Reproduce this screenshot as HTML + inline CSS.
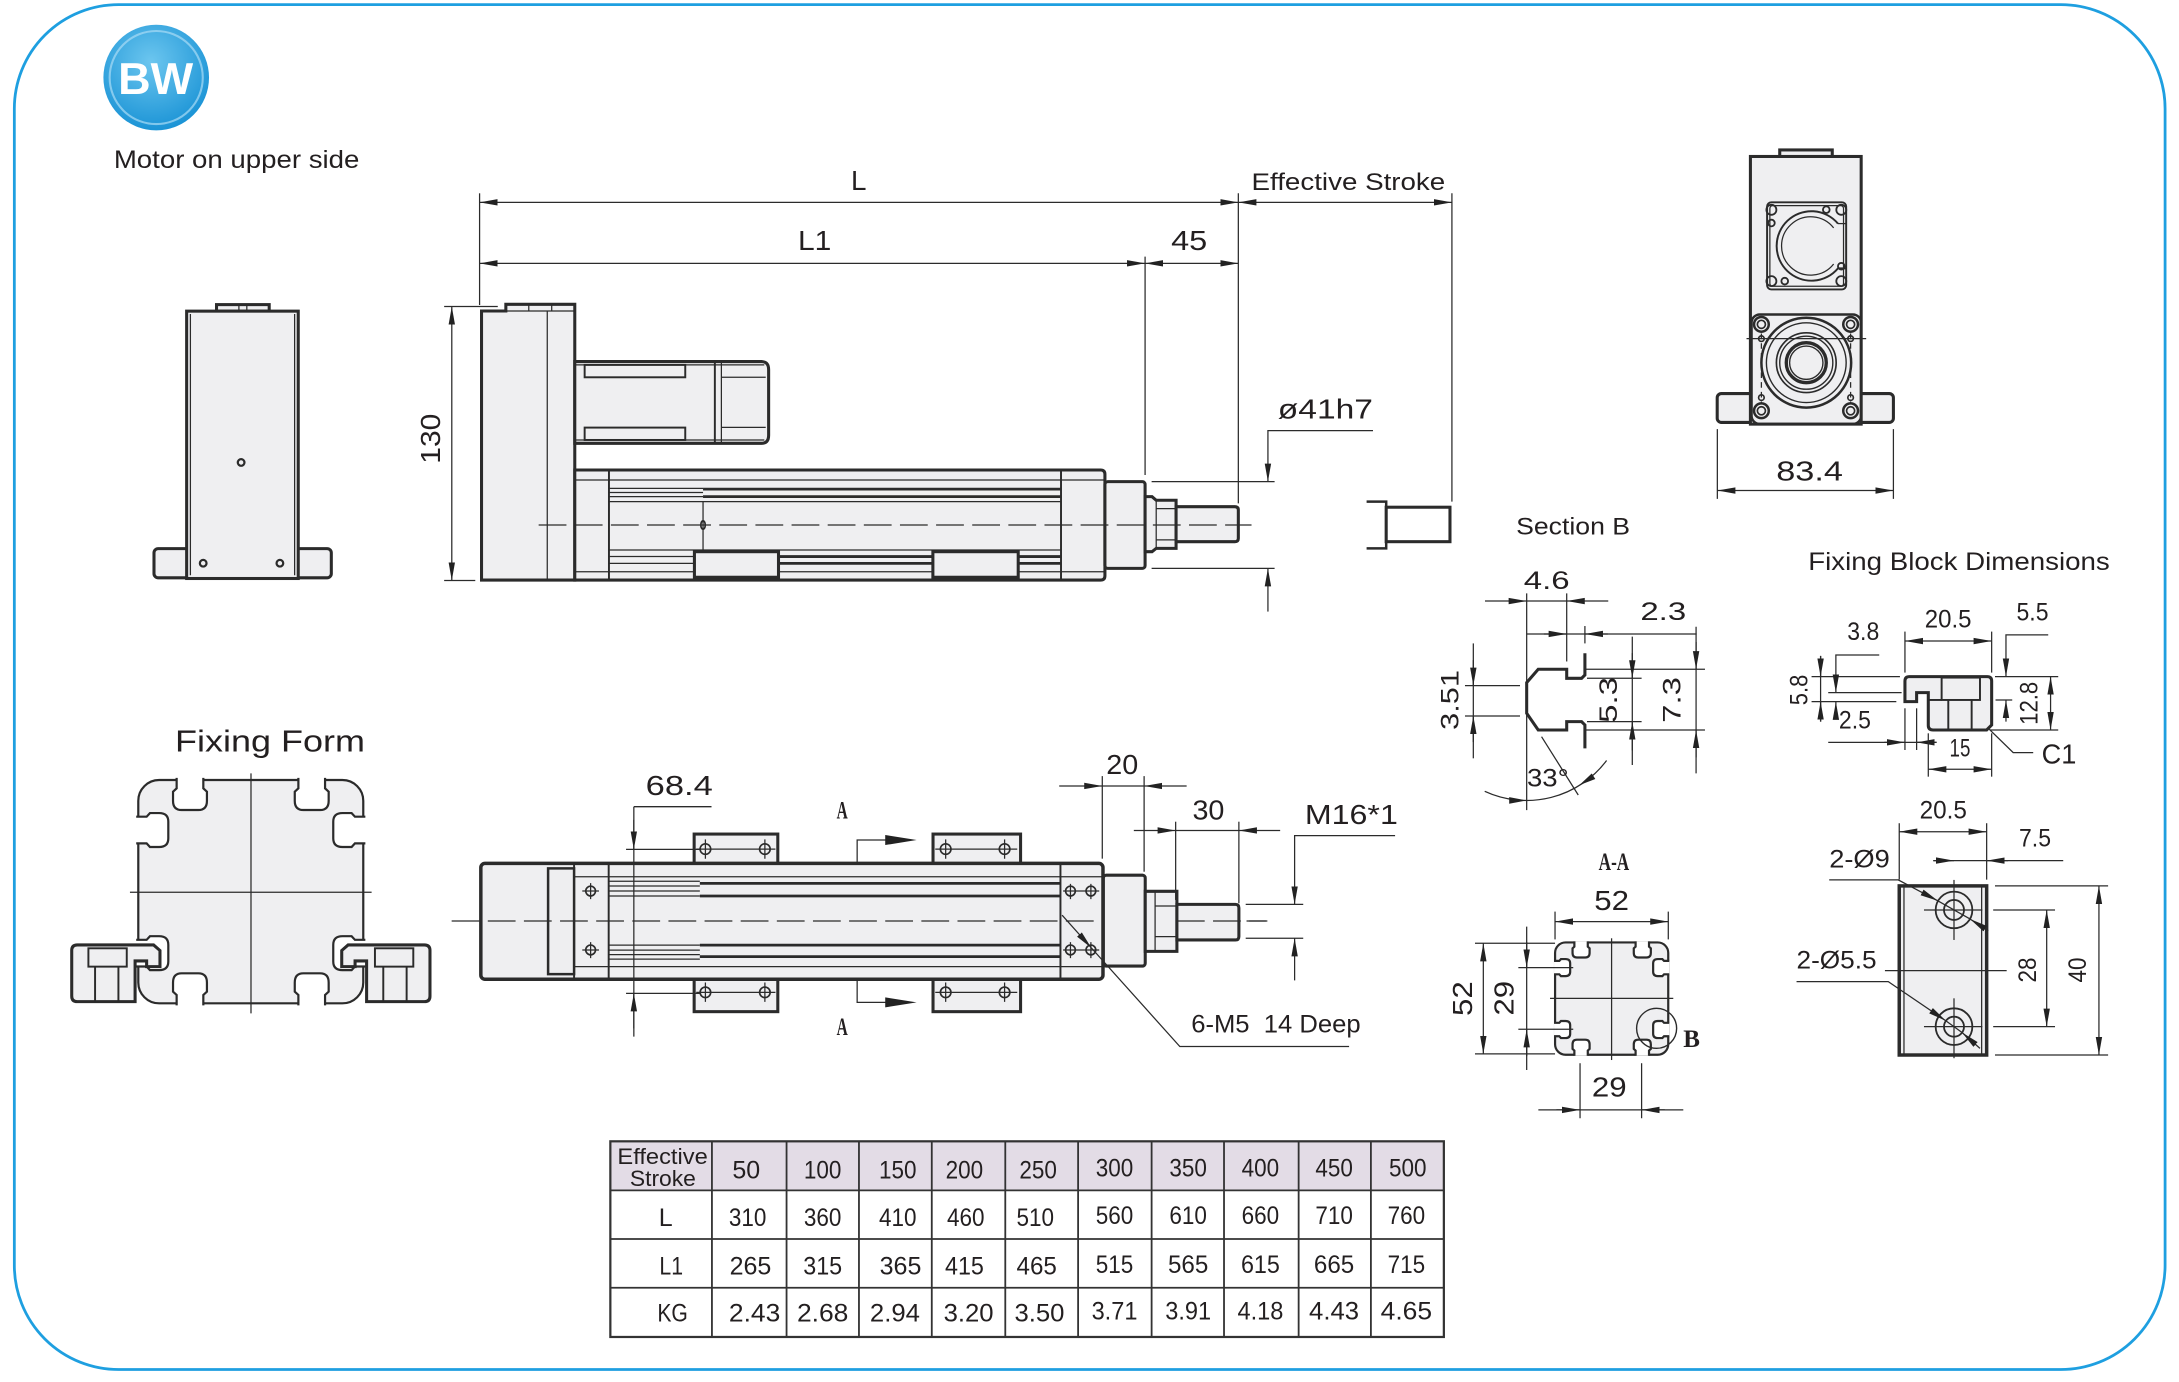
<!DOCTYPE html>
<html><head><meta charset="utf-8">
<style>
html,body{margin:0;padding:0;background:#fff;overflow:hidden;width:2179px;height:1382px}
svg{display:block}
text{font-family:"Liberation Sans",sans-serif;fill:#231f20}
.t{fill:none;stroke:#2b2b2b;stroke-width:0.9}
.m{fill:none;stroke:#2b2b2b;stroke-width:1.4}
.k{fill:#efeff1;stroke:#2b2b2b;stroke-width:2.2}
.n{fill:none;stroke:#2b2b2b;stroke-width:2.2}
.w{fill:#fff;stroke:#2b2b2b;stroke-width:2.2}
.c{fill:none;stroke:#2b2b2b;stroke-width:0.9;stroke-dasharray:20 6}
.e{marker-end:url(#a)}
.b{marker-start:url(#a);marker-end:url(#a)}
.d{font-size:20px}
.s{font-size:18px}
.ab{font-family:"Liberation Serif",serif;font-weight:bold;font-size:18px}
.tb{font-size:18px}
</style></head>
<body>
<svg width="2179" height="1382" viewBox="0 0 1568 994.5" xmlns="http://www.w3.org/2000/svg">
<defs>
<marker id="a" viewBox="0 -3 14 6" markerWidth="14" markerHeight="6" refX="13" refY="0" orient="auto-start-reverse" markerUnits="userSpaceOnUse"><path d="M0,-2.3 L13,0 L0,2.3 z" fill="#222"/></marker>
<radialGradient id="bw" cx="0.45" cy="0.35" r="0.7"><stop offset="0" stop-color="#6cc6ef"/><stop offset="1" stop-color="#1590d4"/></radialGradient>
<path id="sl" d="M-9.6,-1.5 V6 L-12.2,8.4 V15 Q-12.2,21.6 -6,21.6 H6 Q12.2,21.6 12.2,15 V8.4 L9.6,6 V-1.5" fill="#fff" stroke="#2b2b2b" stroke-width="2.2" vector-effect="non-scaling-stroke"/>
<g id="prof">
<rect x="99.5" y="561.3" width="161.9" height="160.7" rx="15" fill="#efeff1" stroke="#2b2b2b" stroke-width="2.2" vector-effect="non-scaling-stroke"/>
<use href="#sl" transform="translate(136.7,561.3)"/>
<use href="#sl" transform="translate(224.3,561.3)"/>
<use href="#sl" transform="translate(136.7,722) rotate(180)"/>
<use href="#sl" transform="translate(224.3,722) rotate(180)"/>
<use href="#sl" transform="translate(99.5,597.3) rotate(-90)"/>
<use href="#sl" transform="translate(99.5,685.9) rotate(-90)"/>
<use href="#sl" transform="translate(261.4,597.3) rotate(90)"/>
<use href="#sl" transform="translate(261.4,685.9) rotate(90)"/>
</g>
<g id="foot">
<path class="k" d="M51.6,684 Q51.6,680 55.6,680 H110.5 L115.1,684 V695.6 H105.5 V691.5 H97.2 V720.8 H55.6 Q51.6,720.8 51.6,716.8 Z"/>
<rect class="m" x="63.6" y="682.4" width="27.6" height="13.2"/>
<line class="m" x1="68.4" y1="695.6" x2="68.4" y2="720.8"/>
<line class="m" x1="85.2" y1="695.6" x2="85.2" y2="720.8"/>
</g>
</defs>

<!-- border -->
<rect x="10.3" y="3.3" width="1547.7" height="982.2" rx="75" fill="none" stroke="#1e9fe0" stroke-width="2"/>

<!-- logo -->
<circle cx="112.4" cy="55.8" r="38" fill="url(#bw)"/>
<circle cx="112.4" cy="55.8" r="33.5" fill="none" stroke="#a9dcf5" stroke-width="1.5" opacity="0.7"/>
<text x="112" y="67.5" text-anchor="middle" font-size="32" font-weight="bold" style="fill:#fff" textLength="54" lengthAdjust="spacingAndGlyphs">BW</text>
<text x="81.9" y="120.8" font-size="18" textLength="176.7" lengthAdjust="spacingAndGlyphs">Motor on upper side</text>

<!-- left end view -->
<rect class="k" x="155.8" y="219.2" width="37.9" height="4.7"/>
<line class="t" x1="171.9" y1="219.2" x2="171.9" y2="223.9"/>
<line class="t" x1="177.6" y1="219.2" x2="177.6" y2="223.9"/>
<rect class="k" x="110.8" y="394.8" width="26" height="21" rx="3"/>
<rect class="k" x="212.6" y="394.8" width="25.8" height="21" rx="3"/>
<rect class="k" x="134.3" y="223.9" width="80.3" height="192.4"/>
<line class="t" x1="137" y1="226" x2="137" y2="414"/>
<line class="t" x1="212" y1="226" x2="212" y2="414"/>
<circle cx="173.5" cy="332.8" r="2.4" fill="none" stroke="#2b2b2b" stroke-width="1.6"/>
<circle cx="146.2" cy="405.3" r="2.4" fill="none" stroke="#2b2b2b" stroke-width="1.6"/>
<circle cx="201.4" cy="405.3" r="2.4" fill="none" stroke="#2b2b2b" stroke-width="1.6"/>

<!-- side view dimensions -->
<line class="t b" x1="345.1" y1="145.6" x2="891.1" y2="145.6"/>
<line class="t b" x1="891.1" y1="145.6" x2="1044.8" y2="145.6"/>
<line class="t b" x1="345.1" y1="189.5" x2="824" y2="189.5"/>
<line class="t b" x1="824" y1="189.5" x2="891.1" y2="189.5"/>
<line class="t" x1="345.1" y1="139.1" x2="345.1" y2="219.5"/>
<line class="t" x1="824" y1="184.7" x2="824" y2="341.8"/>
<line class="t" x1="891.1" y1="139.1" x2="891.1" y2="362.2"/>
<line class="t" x1="1044.8" y1="139.1" x2="1044.8" y2="361"/>
<text class="d" x="617.9" y="136.7" text-anchor="middle">L</text>
<text class="d" x="586.2" y="179.9" text-anchor="middle" textLength="24" lengthAdjust="spacingAndGlyphs">L1</text>
<text class="d" x="855.7" y="179.9" text-anchor="middle" textLength="26" lengthAdjust="spacingAndGlyphs">45</text>
<text x="900.6" y="136.7" font-size="17" textLength="139.4" lengthAdjust="spacingAndGlyphs">Effective Stroke</text>
<line class="t b" x1="325.1" y1="220.6" x2="325.1" y2="417.7"/>
<line class="t" x1="319.6" y1="220.6" x2="358.2" y2="220.6"/>
<line class="t" x1="319.6" y1="417.7" x2="342" y2="417.7"/>
<text class="d" transform="translate(316.5,315.7) rotate(-90)" text-anchor="middle" font-size="22" textLength="36" lengthAdjust="spacingAndGlyphs">130</text>

<!-- side view body -->
<path class="k" d="M346.5,223.8 H364 V219 H413.6 V417.4 H346.5 Z"/>
<line class="t" x1="393.8" y1="223.8" x2="393.8" y2="417.4"/>
<line class="t" x1="364" y1="223.8" x2="413.6" y2="223.8"/>
<line class="t" x1="380.5" y1="219" x2="380.5" y2="223.8"/>
<line class="t" x1="397" y1="219" x2="397" y2="223.8"/>
<path class="k" d="M413.6,260.2 H548 Q553.1,260.2 553.1,266 V313.2 Q553.1,319 548,319 H413.6 Z"/>
<line class="t" x1="413.6" y1="262.6" x2="550" y2="262.6"/>
<line class="t" x1="413.6" y1="316.6" x2="550" y2="316.6"/>
<rect class="m" x="420.7" y="262.6" width="72.4" height="8.9" fill="#efeff1"/>
<rect class="m" x="420.7" y="307.7" width="72.4" height="8.9" fill="#efeff1"/>
<line class="m" x1="514.4" y1="260.2" x2="514.4" y2="319"/>
<line class="t" x1="519.1" y1="260.2" x2="519.1" y2="319"/>
<line class="t" x1="519.1" y1="271.5" x2="551" y2="271.5"/>
<line class="t" x1="519.1" y1="307.5" x2="551" y2="307.5"/>
<path class="k" d="M413.6,338.2 H792 Q795.1,338.2 795.1,341.3 V414.3 Q795.1,417.4 792,417.4 H413.6 Z"/>
<line class="m" x1="438.2" y1="338.2" x2="438.2" y2="417.4"/>
<line class="m" x1="763.5" y1="338.2" x2="763.5" y2="417.4"/>
<line class="t" x1="413.6" y1="345.4" x2="795.1" y2="345.4"/>
<line class="t" x1="413.6" y1="411.4" x2="795.1" y2="411.4"/>
<line class="t" x1="438.2" y1="351.4" x2="505.9" y2="351.4"/>
<line class="t" x1="438.2" y1="354.4" x2="505.9" y2="354.4"/>
<line class="t" x1="438.2" y1="357.4" x2="505.9" y2="357.4"/>
<line class="n" x1="505.9" y1="352" x2="763.5" y2="352" style="stroke-width:2"/>
<line class="n" x1="505.9" y1="357.4" x2="763.5" y2="357.4" style="stroke-width:2"/>
<line class="t" x1="438.2" y1="361" x2="763.5" y2="361"/>
<line class="t" x1="438.2" y1="395.8" x2="763.5" y2="395.8"/>
<line class="t" x1="438.2" y1="400.5" x2="505.9" y2="400.5"/>
<line class="t" x1="438.2" y1="405.4" x2="505.9" y2="405.4"/>
<line class="n" x1="505.9" y1="400.5" x2="763.5" y2="400.5" style="stroke-width:2"/>
<line class="n" x1="505.9" y1="405.4" x2="763.5" y2="405.4" style="stroke-width:2"/>
<line class="t" x1="505.9" y1="361" x2="505.9" y2="395.8"/>
<ellipse cx="505.9" cy="377.8" rx="1.6" ry="3" fill="none" stroke="#2b2b2b" stroke-width="1.2"/>
<rect class="k" x="499.7" y="397" width="60.5" height="18.4"/>
<rect class="k" x="671.3" y="397" width="61.4" height="18.4"/>
<rect class="k" x="795.1" y="346.6" width="28.9" height="62.4" rx="2"/>
<path class="k" d="M824,357.4 H829 L832,360 H846.3 V394.6 H832 L829,397 H824 Z"/>
<line class="t" x1="832" y1="366" x2="846.3" y2="366"/>
<line class="t" x1="832" y1="388.5" x2="846.3" y2="388.5"/>
<line class="t" x1="832" y1="360" x2="832" y2="394.6"/>
<path class="k" d="M846.3,364.6 H888.6 Q891.1,364.6 891.1,367 V387.4 Q891.1,389.8 888.6,389.8 H846.3 Z"/>
<line class="c" x1="387.6" y1="377.8" x2="900.6" y2="377.8"/>
<!-- phi41h7 -->
<text class="d" x="919.5" y="301" font-size="21" textLength="68.5" lengthAdjust="spacingAndGlyphs">ø41h7</text>
<polyline class="t e" points="988,309.9 912.4,309.9 912.4,346.6"/>
<line class="t e" x1="912.4" y1="440.1" x2="912.4" y2="409"/>
<line class="t" x1="828.7" y1="346.6" x2="917.2" y2="346.6"/>
<line class="t" x1="828.7" y1="409" x2="917.2" y2="409"/>
<!-- stroke end -->
<rect class="n" x="997.5" y="365" width="45.9" height="24.8" fill="#fff"/>
<path class="n" d="M983.4,361 H997.5 V394.6 H983.4" style="stroke-width:1.8"/>

<!-- top right end view -->
<rect class="k" x="1280.7" y="107.9" width="37.8" height="5"/>
<rect class="k" x="1235.7" y="283.2" width="26" height="20.8" rx="3"/>
<rect class="k" x="1337" y="283.2" width="25.5" height="20.8" rx="3"/>
<rect class="k" x="1259.6" y="112.6" width="79.7" height="192.6"/>
<rect class="m" x="1271.6" y="145.6" width="56.9" height="62.7" rx="3"/>
<rect class="t" x="1273.6" y="148" width="53" height="58" rx="2"/>
<path class="m" d="M1322.6,160.9 A25,25 0 1 0 1322.6,193.1 H1328.5"/>
<path class="t" d="M1322.6,160.9 H1328.5"/>
<path class="t" d="M1319.5,164 A21,21 0 1 0 1319.5,190"/>
<g fill="none" stroke="#2b2b2b" stroke-width="1.3">
<circle cx="1274.7" cy="151" r="3.6"/><circle cx="1325" cy="151" r="3.6"/>
<circle cx="1274.7" cy="202.3" r="3.6"/><circle cx="1325" cy="202.3" r="3.6"/>
<circle cx="1274.7" cy="160.5" r="2.4"/><circle cx="1314.2" cy="150.9" r="2.4"/>
<circle cx="1325" cy="191.6" r="2.4"/><circle cx="1284.3" cy="202.3" r="2.4"/>
</g>
<rect class="m" x="1260.4" y="226.3" width="78.9" height="78.9" rx="6" style="stroke-width:1.8"/>
<g fill="none" stroke="#2b2b2b">
<circle cx="1299.8" cy="261" r="32.3" stroke-width="1.8"/>
<circle cx="1299.8" cy="261" r="28.7" stroke-width="1"/>
<circle cx="1299.8" cy="261" r="21.5" stroke-width="1.2"/>
<circle cx="1299.8" cy="261" r="19.1" stroke-width="1"/>
<circle cx="1299.8" cy="261" r="14.4" stroke-width="2.4"/>
<circle cx="1299.8" cy="261" r="12" stroke-width="1"/>
<circle cx="1267.5" cy="233.4" r="5.3" stroke-width="1.8"/><circle cx="1267.5" cy="233.4" r="2.9" stroke-width="1.2"/>
<circle cx="1331.7" cy="233.4" r="5.3" stroke-width="1.8"/><circle cx="1331.7" cy="233.4" r="2.9" stroke-width="1.2"/>
<circle cx="1267.5" cy="295.6" r="5.3" stroke-width="1.8"/><circle cx="1267.5" cy="295.6" r="2.9" stroke-width="1.2"/>
<circle cx="1331.7" cy="295.6" r="5.3" stroke-width="1.8"/><circle cx="1331.7" cy="295.6" r="2.9" stroke-width="1.2"/>
<circle cx="1267.5" cy="243.7" r="2" stroke-width="1.2"/><circle cx="1331.7" cy="243.7" r="2" stroke-width="1.2"/>
<circle cx="1267.5" cy="286.1" r="2" stroke-width="1.2"/><circle cx="1331.7" cy="286.1" r="2" stroke-width="1.2"/>
</g>
<line class="t" x1="1256.8" y1="243.7" x2="1342.9" y2="243.7"/>
<line class="t" x1="1267.5" y1="240" x2="1267.5" y2="290" style="stroke-dasharray:4 3"/>
<line class="t" x1="1331.7" y1="240" x2="1331.7" y2="290" style="stroke-dasharray:4 3"/>
<line class="t b" x1="1235.8" y1="353" x2="1362.5" y2="353"/>
<line class="t" x1="1235.8" y1="308.8" x2="1235.8" y2="359"/>
<line class="t" x1="1362.5" y1="308.8" x2="1362.5" y2="359"/>
<text class="d" x="1302.2" y="345.9" text-anchor="middle" font-size="21" textLength="48" lengthAdjust="spacingAndGlyphs">83.4</text>

<!-- Section B -->
<text x="1091" y="384.5" font-size="17.5" textLength="82" lengthAdjust="spacingAndGlyphs">Section B</text>
<path class="n" d="M1140.5,470.1 V485.7 L1138.1,488.1 H1127.4 V481.6 H1106.9 L1098.6,491.2 V513.3 L1106.9,525.3 H1127.4 V519.3 H1138.1 L1140.5,521.7 V538.5"/>
<line class="t e" x1="1068.6" y1="432.5" x2="1098.6" y2="432.5"/>
<line class="t e" x1="1157.3" y1="432.5" x2="1127.4" y2="432.5"/>
<line class="t" x1="1098.6" y1="432.5" x2="1127.4" y2="432.5"/>
<line class="t" x1="1098.6" y1="427" x2="1098.6" y2="583"/>
<line class="t" x1="1127.4" y1="427" x2="1127.4" y2="476"/>
<text class="s" x="1113" y="424" text-anchor="middle" textLength="33" lengthAdjust="spacingAndGlyphs">4.6</text>
<line class="t" x1="1098.6" y1="456.2" x2="1220.9" y2="456.2"/>
<line class="t e" x1="1111" y1="456.2" x2="1127.4" y2="456.2"/>
<line class="t e" x1="1157" y1="456.2" x2="1140.5" y2="456.2"/>
<line class="t" x1="1140.5" y1="450.5" x2="1140.5" y2="463"/>
<text class="s" x="1196.9" y="446.1" text-anchor="middle" textLength="33" lengthAdjust="spacingAndGlyphs">2.3</text>
<line class="t" x1="1141" y1="481.6" x2="1226.9" y2="481.6"/>
<line class="t" x1="1141" y1="525.3" x2="1226.9" y2="525.3"/>
<line class="t" x1="1142" y1="488.1" x2="1181.3" y2="488.1"/>
<line class="t" x1="1142" y1="519.3" x2="1181.3" y2="519.3"/>
<line class="t" x1="1174.6" y1="458.1" x2="1174.6" y2="550.5"/>
<line class="t e" x1="1174.6" y1="470" x2="1174.6" y2="488.1"/>
<line class="t e" x1="1174.6" y1="540" x2="1174.6" y2="519.3"/>
<text class="s" transform="translate(1163.6,503.7) rotate(-90)" text-anchor="middle" textLength="33" lengthAdjust="spacingAndGlyphs">5.3</text>
<line class="t" x1="1220.5" y1="451" x2="1220.5" y2="556.5"/>
<line class="t e" x1="1220.5" y1="462" x2="1220.5" y2="481.6"/>
<line class="t e" x1="1220.5" y1="545" x2="1220.5" y2="525.3"/>
<text class="s" transform="translate(1209.2,503.7) rotate(-90)" text-anchor="middle" textLength="33" lengthAdjust="spacingAndGlyphs">7.3</text>
<line class="t" x1="1060.2" y1="463" x2="1060.2" y2="545.7"/>
<line class="t e" x1="1060.2" y1="475" x2="1060.2" y2="493.4"/>
<line class="t e" x1="1060.2" y1="534" x2="1060.2" y2="515.2"/>
<line class="t" x1="1054.2" y1="493.4" x2="1093.8" y2="493.4"/>
<line class="t" x1="1054.2" y1="515.2" x2="1093.8" y2="515.2"/>
<text class="s" transform="translate(1049.7,503.7) rotate(-90)" text-anchor="middle" textLength="43" lengthAdjust="spacingAndGlyphs">3.51</text>
<path class="t" d="M1068.4,569.4 A72,72 0 0 0 1156.1,547.3"/>
<polygon points="1098.6,576 1086,573.6 1086,578.4" fill="#222"/>
<polygon points="1136.5,565 1148,560.6 1145.4,556.6" fill="#222"/>
<line class="t" x1="1109.3" y1="530.1" x2="1135.7" y2="572.1"/>
<text x="1098.8" y="566.1" font-size="18" textLength="30" lengthAdjust="spacingAndGlyphs">33°</text>

<!-- Fixing block dims -->
<text x="1301.2" y="410.2" font-size="18" textLength="217" lengthAdjust="spacingAndGlyphs">Fixing Block Dimensions</text>
<path class="k" d="M1370.8,490 Q1370.8,486.9 1374,486.9 H1430 Q1433.2,486.9 1433.2,490 V521.7 L1429.6,525.3 H1391 Q1387.6,525.3 1387.6,522 V498.4 H1379.2 V504.9 H1370.8 Z"/>
<rect class="m" x="1397.2" y="487.6" width="27.6" height="16.1"/>
<line class="m" x1="1387.6" y1="503.7" x2="1397.2" y2="503.7"/>
<line class="m" x1="1402" y1="503.7" x2="1402" y2="525.3"/>
<line class="m" x1="1418.8" y1="503.7" x2="1418.8" y2="525.3"/>
<line class="t b" x1="1370.8" y1="461.3" x2="1433.2" y2="461.3"/>
<line class="t" x1="1370.8" y1="454.5" x2="1370.8" y2="484"/>
<line class="t" x1="1433.2" y1="454.5" x2="1433.2" y2="484"/>
<text class="s" x="1401.9" y="451.4" text-anchor="middle" font-size="19" textLength="33.6" lengthAdjust="spacingAndGlyphs">20.5</text>
<text class="s" x="1462.6" y="446.6" text-anchor="middle" font-size="19" textLength="23" lengthAdjust="spacingAndGlyphs">5.5</text>
<polyline class="t e" points="1473.9,456.9 1443.5,456.9 1443.5,486.9"/>
<line class="t e" x1="1443.5" y1="519.3" x2="1443.5" y2="503.7"/>
<line class="t" x1="1436" y1="503.7" x2="1448" y2="503.7"/>
<line class="t b" x1="1475.6" y1="486.9" x2="1475.6" y2="525.3"/>
<line class="t" x1="1435.6" y1="486.9" x2="1481.1" y2="486.9"/>
<line class="t" x1="1432" y1="525.3" x2="1481.1" y2="525.3"/>
<text class="s" transform="translate(1466.3,506.1) rotate(-90)" text-anchor="middle" font-size="19" textLength="31" lengthAdjust="spacingAndGlyphs">12.8</text>
<line class="t" x1="1310.1" y1="472" x2="1310.1" y2="519.3"/>
<line class="t e" x1="1310.1" y1="472" x2="1310.1" y2="486.9"/>
<line class="t e" x1="1310.1" y1="519.3" x2="1310.1" y2="504.9"/>
<line class="t" x1="1303.6" y1="486.9" x2="1367.2" y2="486.9"/>
<line class="t" x1="1303.6" y1="504.9" x2="1364.6" y2="504.9"/>
<text class="s" transform="translate(1300.8,496.5) rotate(-90)" text-anchor="middle" font-size="19" textLength="22" lengthAdjust="spacingAndGlyphs">5.8</text>
<text class="s" x="1340.8" y="460.5" text-anchor="middle" font-size="19" textLength="23" lengthAdjust="spacingAndGlyphs">3.8</text>
<polyline class="t e" points="1352.3,471.3 1321.1,471.3 1321.1,498.4"/>
<line class="t" x1="1315.6" y1="498.4" x2="1368.4" y2="498.4"/>
<line class="t e" x1="1321.1" y1="517" x2="1321.1" y2="505"/>
<line class="t" x1="1315.6" y1="534.2" x2="1393.6" y2="534.2"/>
<line class="t e" x1="1356" y1="534.2" x2="1370.8" y2="534.2"/>
<line class="t e" x1="1393.6" y1="534.2" x2="1379.2" y2="534.2"/>
<line class="t" x1="1370.8" y1="509.7" x2="1370.8" y2="539.7"/>
<line class="t" x1="1379.2" y1="509.7" x2="1379.2" y2="539.7"/>
<text class="s" x="1334.8" y="524.1" text-anchor="middle" font-size="19" textLength="23" lengthAdjust="spacingAndGlyphs">2.5</text>
<line class="t b" x1="1387.6" y1="553.6" x2="1433.2" y2="553.6"/>
<line class="t" x1="1387.6" y1="527.7" x2="1387.6" y2="558.9"/>
<line class="t" x1="1433.2" y1="527.7" x2="1433.2" y2="558.9"/>
<text class="s" x="1410.4" y="544.5" text-anchor="middle" font-size="19" textLength="15" lengthAdjust="spacingAndGlyphs">15</text>
<polyline class="t" points="1431.5,524.8 1448.7,541.6 1463.1,541.6"/>
<text x="1469.2" y="549.3" font-size="20" textLength="25" lengthAdjust="spacingAndGlyphs">C1</text>

<!-- fixing block lower view -->
<rect x="1366.7" y="637.5" width="62.9" height="121.7" fill="#efeff1" stroke="#2b2b2b" stroke-width="2.5"/>
<line class="t" x1="1370.1" y1="637.5" x2="1370.1" y2="759.2"/>
<line class="t" x1="1426" y1="637.5" x2="1426" y2="759.2"/>
<g fill="none" stroke="#2b2b2b" stroke-width="1.3">
<circle cx="1406.1" cy="654.8" r="13.2"/><circle cx="1406.1" cy="654.8" r="7.2"/>
<circle cx="1406.1" cy="738.8" r="13.2"/><circle cx="1406.1" cy="738.8" r="7.2"/>
</g>
<line class="t" x1="1406.1" y1="633.2" x2="1406.1" y2="676.4"/>
<line class="t" x1="1384.5" y1="654.8" x2="1426.5" y2="654.8"/>
<line class="t" x1="1406.1" y1="718.4" x2="1406.1" y2="761.5"/>
<line class="t" x1="1384.5" y1="738.8" x2="1426.5" y2="738.8"/>
<line class="t" x1="1356.4" y1="698.5" x2="1444" y2="698.5"/>
<line class="t b" x1="1366.7" y1="598.5" x2="1429.6" y2="598.5"/>
<line class="t" x1="1366.7" y1="592.4" x2="1366.7" y2="633"/>
<line class="t" x1="1429.6" y1="592.4" x2="1429.6" y2="633"/>
<text class="s" x="1398.4" y="588.9" text-anchor="middle" font-size="19" textLength="34" lengthAdjust="spacingAndGlyphs">20.5</text>
<line class="t" x1="1391.2" y1="619.3" x2="1484.7" y2="619.3"/>
<line class="t e" x1="1391.2" y1="619.3" x2="1406.1" y2="619.3"/>
<line class="t e" x1="1445" y1="619.3" x2="1429.6" y2="619.3"/>
<text class="s" x="1464.4" y="609.2" text-anchor="middle" font-size="19" textLength="23" lengthAdjust="spacingAndGlyphs">7.5</text>
<text class="s" x="1316.3" y="624.1" font-size="19" textLength="43.6" lengthAdjust="spacingAndGlyphs">2-Ø9</text>
<polyline class="t e" points="1316.3,633.2 1366,633.2 1394.6,648.3"/>
<line class="t e" x1="1430.8" y1="669.7" x2="1417.6" y2="661.3"/>
<line class="t" x1="1394.6" y1="648.3" x2="1417.6" y2="661.3"/>
<text class="s" x="1292.8" y="696.8" font-size="19" textLength="57.6" lengthAdjust="spacingAndGlyphs">2-Ø5.5</text>
<polyline class="t e" points="1292.8,706.4 1358.8,706.4 1400.3,734.6"/>
<line class="t e" x1="1424.8" y1="754.4" x2="1411.9" y2="743"/>
<line class="t" x1="1400.3" y1="734.6" x2="1411.9" y2="743"/>
<line class="t b" x1="1472.8" y1="654.8" x2="1472.8" y2="738.8"/>
<line class="t" x1="1434.3" y1="654.8" x2="1478.8" y2="654.8"/>
<line class="t" x1="1434.3" y1="738.8" x2="1478.8" y2="738.8"/>
<text class="s" transform="translate(1465.2,698) rotate(-90)" text-anchor="middle" font-size="19" textLength="18" lengthAdjust="spacingAndGlyphs">28</text>
<line class="t b" x1="1510.4" y1="637.5" x2="1510.4" y2="759.2"/>
<line class="t" x1="1435.6" y1="637.5" x2="1517" y2="637.5"/>
<line class="t" x1="1435.6" y1="759.2" x2="1517" y2="759.2"/>
<text class="s" transform="translate(1501.1,698) rotate(-90)" text-anchor="middle" font-size="19" textLength="18" lengthAdjust="spacingAndGlyphs">40</text>

<!-- Fixing Form -->
<text x="125.9" y="540.9" font-size="22" textLength="136.7" lengthAdjust="spacingAndGlyphs">Fixing Form</text>
<use href="#prof"/>
<use href="#foot"/>
<use href="#foot" transform="translate(361,0) scale(-1,1)"/>
<line class="t" x1="180.6" y1="556.5" x2="180.6" y2="729.2"/>
<line class="t" x1="93.5" y1="642.1" x2="267.4" y2="642.1"/>

<!-- A-A -->
<text class="ab" x="1161.4" y="626" text-anchor="middle" textLength="22" lengthAdjust="spacingAndGlyphs">A-A</text>
<use href="#prof" transform="translate(1159.75,718.6) scale(0.503) translate(-180.45,-641.65)"/>
<line class="t" x1="1159.7" y1="675.2" x2="1159.7" y2="762.8"/>
<line class="t" x1="1115.4" y1="718.4" x2="1204.1" y2="718.4"/>
<circle cx="1192.1" cy="740" r="14.4" fill="none" stroke="#2b2b2b" stroke-width="1"/>
<text class="ab" x="1211.3" y="753.6" font-size="16">B</text>
<line class="t b" x1="1119" y1="663.2" x2="1200.5" y2="663.2"/>
<line class="t" x1="1119" y1="656" x2="1119" y2="676"/>
<line class="t" x1="1200.5" y1="656" x2="1200.5" y2="676"/>
<text class="d" x="1159.7" y="654.8" text-anchor="middle" textLength="25" lengthAdjust="spacingAndGlyphs">52</text>
<line class="t b" x1="1067.4" y1="678.8" x2="1067.4" y2="758.4"/>
<line class="t" x1="1061.4" y1="678.8" x2="1119" y2="678.8"/>
<line class="t" x1="1061.4" y1="758.4" x2="1119" y2="758.4"/>
<text class="d" transform="translate(1059.2,718.6) rotate(-90)" text-anchor="middle" textLength="25" lengthAdjust="spacingAndGlyphs">52</text>
<line class="t" x1="1098.6" y1="666.8" x2="1098.6" y2="770"/>
<line class="t e" x1="1098.6" y1="678" x2="1098.6" y2="696.3"/>
<line class="t e" x1="1098.6" y1="760" x2="1098.6" y2="740.7"/>
<line class="t" x1="1092.6" y1="696.3" x2="1132.1" y2="696.3"/>
<line class="t" x1="1092.6" y1="740.7" x2="1132.1" y2="740.7"/>
<text class="d" transform="translate(1089,718.4) rotate(-90)" text-anchor="middle" textLength="25" lengthAdjust="spacingAndGlyphs">29</text>
<line class="t" x1="1107" y1="798.7" x2="1211.3" y2="798.7"/>
<line class="t e" x1="1120" y1="798.7" x2="1137" y2="798.7"/>
<line class="t e" x1="1198" y1="798.7" x2="1181.3" y2="798.7"/>
<line class="t" x1="1137" y1="765.1" x2="1137" y2="804.7"/>
<line class="t" x1="1181.3" y1="765.1" x2="1181.3" y2="804.7"/>
<text class="d" x="1158" y="789.1" text-anchor="middle" textLength="25" lengthAdjust="spacingAndGlyphs">29</text>

<!-- bottom view -->
<rect class="k" x="499.5" y="600.2" width="60.2" height="22"/>
<rect class="k" x="671.4" y="600.2" width="63" height="22"/>
<rect class="k" x="499.5" y="704" width="60.2" height="24"/>
<rect class="k" x="671.4" y="704" width="63" height="24"/>
<rect x="346" y="621.3" width="447.7" height="83.4" rx="3" fill="#efeff1" stroke="#2b2b2b" stroke-width="2.5"/>
<rect x="394.4" y="624.9" width="18.7" height="76.1" fill="#eeeef0" stroke="#2b2b2b" stroke-width="1.8"/>
<line class="m" x1="413.1" y1="621.3" x2="413.1" y2="704.7"/>
<line class="m" x1="438" y1="621.3" x2="438" y2="704.7"/>
<line class="m" x1="763.1" y1="621.3" x2="763.1" y2="704.7"/>
<line class="t" x1="413" y1="630.9" x2="793" y2="630.9"/>
<line class="t" x1="413" y1="695.6" x2="793" y2="695.6"/>
<line class="t" x1="438" y1="634.2" x2="503.6" y2="634.2"/>
<line class="t" x1="438" y1="637.6" x2="503.6" y2="637.6"/>
<line class="t" x1="438" y1="641.2" x2="503.6" y2="641.2"/>
<line class="t" x1="438" y1="644.8" x2="503.6" y2="644.8"/>
<line class="n" x1="503.6" y1="635.7" x2="763.1" y2="635.7" style="stroke-width:2"/>
<line class="n" x1="503.6" y1="644.8" x2="763.1" y2="644.8" style="stroke-width:2"/>
<line class="t" x1="438" y1="680.1" x2="503.6" y2="680.1"/>
<line class="t" x1="438" y1="683.7" x2="503.6" y2="683.7"/>
<line class="t" x1="438" y1="687" x2="503.6" y2="687"/>
<line class="t" x1="438" y1="690.2" x2="503.6" y2="690.2"/>
<line class="n" x1="503.6" y1="680.1" x2="763.1" y2="680.1" style="stroke-width:2"/>
<line class="n" x1="503.6" y1="688.4" x2="763.1" y2="688.4" style="stroke-width:2"/>
<g fill="none" stroke="#2b2b2b" stroke-width="1.2">
<circle cx="425" cy="641.2" r="3.5"/><circle cx="425" cy="683.6" r="3.5"/>
<circle cx="770.3" cy="641.2" r="3.5"/><circle cx="785" cy="641.2" r="3.5"/>
<circle cx="770.3" cy="683.6" r="3.5"/><circle cx="785" cy="683.6" r="3.5"/>
<circle cx="507.6" cy="611" r="3.8"/><circle cx="550.4" cy="611" r="3.8"/>
<circle cx="680.5" cy="611" r="3.8"/><circle cx="722.9" cy="611" r="3.8"/>
<circle cx="507.6" cy="714.1" r="3.8"/><circle cx="550.4" cy="714.1" r="3.8"/>
<circle cx="680.5" cy="714.1" r="3.8"/><circle cx="722.9" cy="714.1" r="3.8"/>
</g>
<g class="t">
<path d="M419,641.2 H431 M425,635.5 V647 M419,683.6 H431 M425,678 V689.5"/>
<path d="M765,641.2 H791 M770.3,636 V647 M785,636 V647 M765,683.6 H791 M770.3,678 V689.5 M785,678 V689.5"/>
<path d="M501,611 H558 M507.6,604 V618 M550.4,604 V618 M673,611 H732 M680.5,604 V618 M722.9,604 V618"/>
<path d="M501,714.1 H558 M507.6,707 V721 M550.4,707 V721 M673,714.1 H732 M680.5,707 V721 M722.9,707 V721"/>
</g>
<line class="c" x1="325" y1="662.8" x2="912" y2="662.8"/>
<polyline class="t" points="616.8,621.3 616.8,604.5 640,604.5"/>
<polygon points="637,600.9 659.6,604.5 637,608.1" fill="#222"/>
<polyline class="t" points="616.8,704.7 616.8,721.3 640,721.3"/>
<polygon points="637,717.7 659.6,721.3 637,724.9" fill="#222"/>
<text class="ab" x="606" y="588.9" text-anchor="middle" font-size="18" textLength="8" lengthAdjust="spacingAndGlyphs">A</text>
<text class="ab" x="606" y="744.8" text-anchor="middle" font-size="18" textLength="8" lengthAdjust="spacingAndGlyphs">A</text>
<line class="t" x1="456.1" y1="580.5" x2="456.1" y2="746"/>
<line class="t e" x1="456.1" y1="590" x2="456.1" y2="611.2"/>
<line class="t e" x1="456.1" y1="740" x2="456.1" y2="714.8"/>
<line class="t" x1="450.5" y1="611.2" x2="503.6" y2="611.2"/>
<line class="t" x1="450.5" y1="714.8" x2="503.6" y2="714.8"/>
<line class="t" x1="456.1" y1="580.5" x2="512" y2="580.5"/>
<text class="d" x="464.6" y="572.1" font-size="21" textLength="48.3" lengthAdjust="spacingAndGlyphs">68.4</text>
<rect class="k" x="794" y="629.8" width="30.1" height="65.4" rx="2"/>
<path class="k" d="M824.1,641.4 H846.9 V684.6 H824.1 Z"/>
<line class="t" x1="831.2" y1="641.4" x2="831.2" y2="684.6"/>
<line class="t" x1="831.2" y1="652" x2="846.9" y2="652"/>
<line class="t" x1="831.2" y1="674" x2="846.9" y2="674"/>
<path class="k" d="M846.9,650.8 H889 Q891.5,650.8 891.5,653.3 V673.9 Q891.5,676.4 889,676.4 H846.9 Z"/>
<line class="c" x1="846.9" y1="662.8" x2="910.9" y2="662.8"/>
<line class="t" x1="793.2" y1="565.6" x2="823.3" y2="565.6"/>
<line class="t e" x1="762.2" y1="565.6" x2="793.2" y2="565.6"/>
<line class="t e" x1="853.9" y1="565.6" x2="823.3" y2="565.6"/>
<line class="t" x1="793.2" y1="558.5" x2="793.2" y2="617.9"/>
<line class="t" x1="823.3" y1="558.5" x2="823.3" y2="627.3"/>
<text class="d" x="807.6" y="556.9" text-anchor="middle" font-size="21" textLength="23" lengthAdjust="spacingAndGlyphs">20</text>
<line class="t" x1="846" y1="597.6" x2="891.5" y2="597.6"/>
<line class="t e" x1="815.9" y1="597.6" x2="846" y2="597.6"/>
<line class="t e" x1="921.2" y1="597.6" x2="891.5" y2="597.6"/>
<line class="t" x1="846" y1="591.3" x2="846" y2="647.6"/>
<line class="t" x1="891.5" y1="591.3" x2="891.5" y2="650"/>
<text class="d" x="869.6" y="589.7" text-anchor="middle" font-size="21" textLength="23" lengthAdjust="spacingAndGlyphs">30</text>
<text class="d" x="939" y="592.9" font-size="21" textLength="66.9" lengthAdjust="spacingAndGlyphs">M16*1</text>
<polyline class="t e" points="1003.9,601.3 931.6,601.3 931.6,650.8"/>
<line class="t e" x1="931.6" y1="705.5" x2="931.6" y2="675.2"/>
<line class="t" x1="896.4" y1="650.8" x2="937.8" y2="650.8"/>
<line class="t" x1="896.4" y1="675.2" x2="937.8" y2="675.2"/>
<line class="t e" x1="764.3" y1="658.6" x2="785.4" y2="682.2"/>
<polyline class="t" points="785.4,682.2 849,753.1 970.8,753.1"/>
<text x="857.2" y="743.1" font-size="18" textLength="121.9" lengthAdjust="spacingAndGlyphs">6-M5&#160; 14 Deep</text>

<!-- table -->
<rect x="439.2" y="821.3" width="599.8" height="35.3" fill="#e3dce6"/>
<g stroke="#333" stroke-width="1.3" fill="none">
<rect x="439.2" y="821.3" width="599.8" height="140.8" stroke-width="1.6"/>
<line x1="439.2" y1="856.6" x2="1039" y2="856.6"/>
<line x1="439.2" y1="891.6" x2="1039" y2="891.6"/>
<line x1="439.2" y1="926.7" x2="1039" y2="926.7"/>
<line x1="512.3" y1="821.3" x2="512.3" y2="962.1"/>
<line x1="566" y1="821.3" x2="566" y2="962.1"/>
<line x1="618.1" y1="821.3" x2="618.1" y2="962.1"/>
<line x1="670.5" y1="821.3" x2="670.5" y2="962.1"/>
<line x1="723.4" y1="821.3" x2="723.4" y2="962.1"/>
<line x1="775.8" y1="821.3" x2="775.8" y2="962.1"/>
<line x1="828.7" y1="821.3" x2="828.7" y2="962.1"/>
<line x1="880.8" y1="821.3" x2="880.8" y2="962.1"/>
<line x1="934.5" y1="821.3" x2="934.5" y2="962.1"/>
<line x1="986.5" y1="821.3" x2="986.5" y2="962.1"/>
</g>
<text x="476.8" y="837.8" text-anchor="middle" font-size="16" textLength="65" lengthAdjust="spacingAndGlyphs">Effective</text>
<text x="477" y="853.5" text-anchor="middle" font-size="16" textLength="47.5" lengthAdjust="spacingAndGlyphs">Stroke</text>
<g class="tb" text-anchor="middle">
<text x="537" y="847.9" textLength="20" lengthAdjust="spacingAndGlyphs">50</text>
<text x="592" y="847.9" textLength="27" lengthAdjust="spacingAndGlyphs">100</text>
<text x="646" y="847.9" textLength="27" lengthAdjust="spacingAndGlyphs">150</text>
<text x="694" y="847.9" textLength="27" lengthAdjust="spacingAndGlyphs">200</text>
<text x="747" y="847.9" textLength="27" lengthAdjust="spacingAndGlyphs">250</text>
<text x="802" y="846.5" textLength="27" lengthAdjust="spacingAndGlyphs">300</text>
<text x="855" y="846.5" textLength="27" lengthAdjust="spacingAndGlyphs">350</text>
<text x="907" y="846.5" textLength="27" lengthAdjust="spacingAndGlyphs">400</text>
<text x="960" y="846.5" textLength="27" lengthAdjust="spacingAndGlyphs">450</text>
<text x="1013" y="846.5" textLength="27" lengthAdjust="spacingAndGlyphs">500</text>
<text x="479" y="882.2">L</text>
<text x="538" y="882.2" textLength="27" lengthAdjust="spacingAndGlyphs">310</text>
<text x="592" y="882.2" textLength="27" lengthAdjust="spacingAndGlyphs">360</text>
<text x="646" y="882.2" textLength="27" lengthAdjust="spacingAndGlyphs">410</text>
<text x="695" y="882.2" textLength="27" lengthAdjust="spacingAndGlyphs">460</text>
<text x="745" y="882.2" textLength="27" lengthAdjust="spacingAndGlyphs">510</text>
<text x="802" y="880.8" textLength="27" lengthAdjust="spacingAndGlyphs">560</text>
<text x="855" y="880.8" textLength="27" lengthAdjust="spacingAndGlyphs">610</text>
<text x="907" y="880.8" textLength="27" lengthAdjust="spacingAndGlyphs">660</text>
<text x="960" y="880.8" textLength="27" lengthAdjust="spacingAndGlyphs">710</text>
<text x="1012" y="880.8" textLength="27" lengthAdjust="spacingAndGlyphs">760</text>
<text x="483" y="917.3" textLength="17" lengthAdjust="spacingAndGlyphs">L1</text>
<text x="540" y="917.3" textLength="30" lengthAdjust="spacingAndGlyphs">265</text>
<text x="592" y="917.3" textLength="28" lengthAdjust="spacingAndGlyphs">315</text>
<text x="648" y="917.3" textLength="30" lengthAdjust="spacingAndGlyphs">365</text>
<text x="694" y="917.3" textLength="28" lengthAdjust="spacingAndGlyphs">415</text>
<text x="746" y="917.3" textLength="29" lengthAdjust="spacingAndGlyphs">465</text>
<text x="802" y="915.9" textLength="27" lengthAdjust="spacingAndGlyphs">515</text>
<text x="855" y="915.9" textLength="29" lengthAdjust="spacingAndGlyphs">565</text>
<text x="907" y="915.9" textLength="28" lengthAdjust="spacingAndGlyphs">615</text>
<text x="960" y="915.9" textLength="29" lengthAdjust="spacingAndGlyphs">665</text>
<text x="1012" y="915.9" textLength="27" lengthAdjust="spacingAndGlyphs">715</text>
<text x="484" y="951.1" textLength="22" lengthAdjust="spacingAndGlyphs">KG</text>
<text x="543" y="951.1" textLength="37" lengthAdjust="spacingAndGlyphs">2.43</text>
<text x="592" y="951.1" textLength="37" lengthAdjust="spacingAndGlyphs">2.68</text>
<text x="644" y="951.1" textLength="36" lengthAdjust="spacingAndGlyphs">2.94</text>
<text x="697" y="951.1" textLength="36" lengthAdjust="spacingAndGlyphs">3.20</text>
<text x="748" y="951.1" textLength="36" lengthAdjust="spacingAndGlyphs">3.50</text>
<text x="802" y="949.7" textLength="33" lengthAdjust="spacingAndGlyphs">3.71</text>
<text x="855" y="949.7" textLength="33" lengthAdjust="spacingAndGlyphs">3.91</text>
<text x="907" y="949.7" textLength="33" lengthAdjust="spacingAndGlyphs">4.18</text>
<text x="960" y="949.7" textLength="36" lengthAdjust="spacingAndGlyphs">4.43</text>
<text x="1012" y="949.7" textLength="37" lengthAdjust="spacingAndGlyphs">4.65</text>
</g>
</svg>
</body></html>
